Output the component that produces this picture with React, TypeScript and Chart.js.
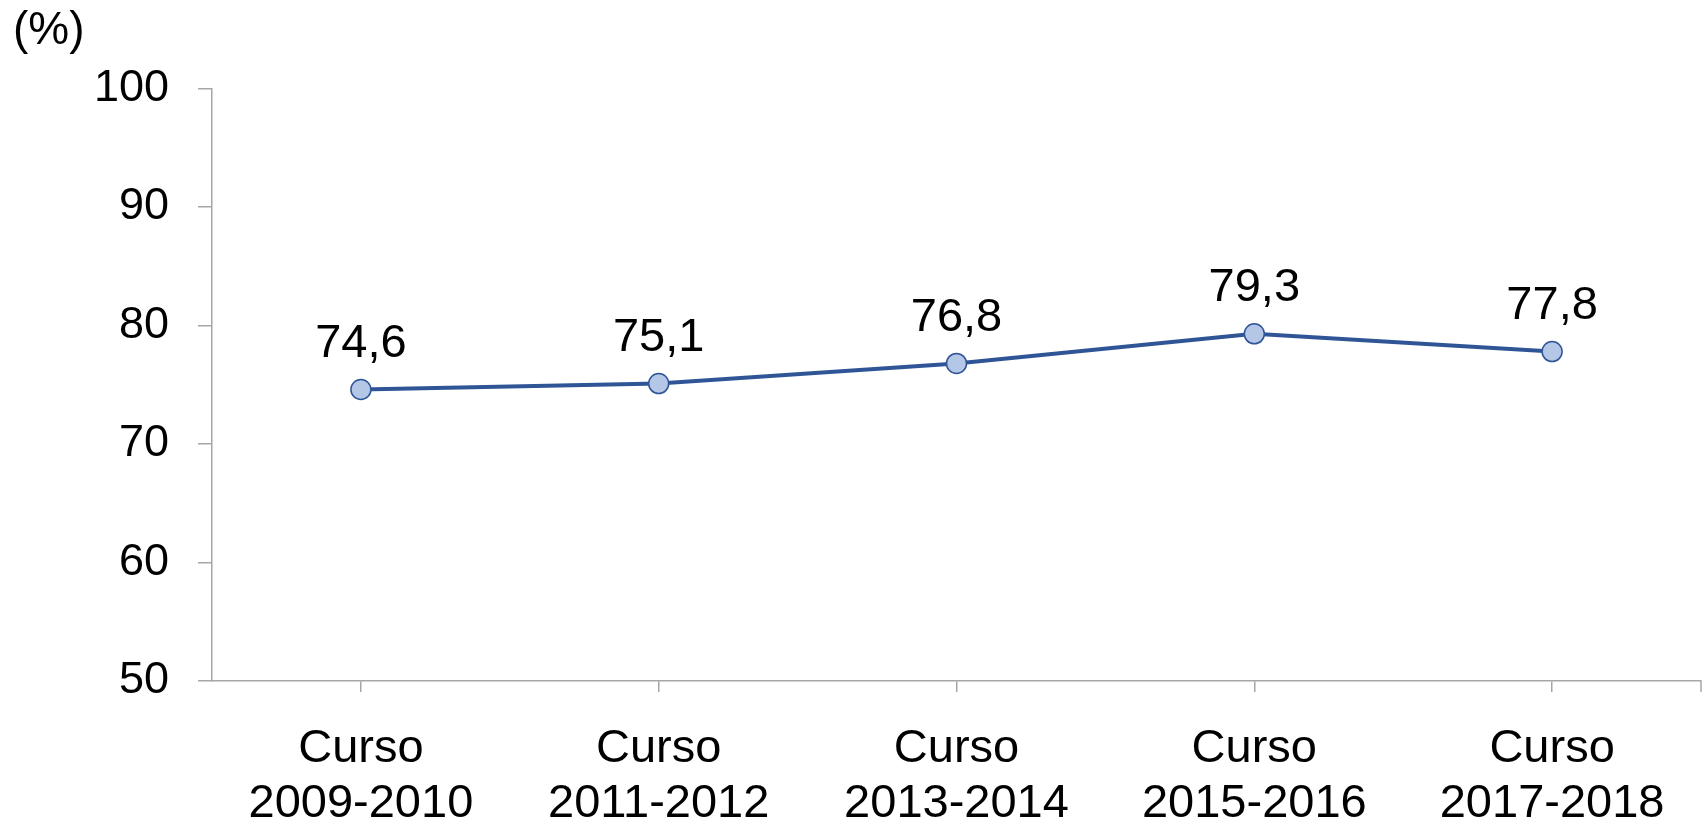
import React, { useEffect, useRef } from "react";
import { Chart, registerables } from "chart.js";

Chart.register(...registerables);

const categories: string[][] = [
  ["Curso", "2009-2010"],
  ["Curso", "2011-2012"],
  ["Curso", "2013-2014"],
  ["Curso", "2015-2016"],
  ["Curso", "2017-2018"],
];
const values: number[] = [74.6, 75.1, 76.8, 79.3, 77.8];
const valueLabels: string[] = ["74,6", "75,1", "76,8", "79,3", "77,8"];
const yMin = 50;
const yMax = 100;
const yStep = 10;
const unitLabel = "(%)";

const FONT = "'Liberation Sans', Arial, sans-serif";
const AXIS = "#A6A6A6";
const LINE = "#2F5597";
const FILL = "#B4C7E7";

const overlayPlugin = {
  id: "overlay",
  afterDatasetsDraw(chart: any) {
    const ctx = chart.ctx;
    const meta = chart.getDatasetMeta(0);
    ctx.save();
    ctx.fillStyle = "#000";
    ctx.font = `47px ${FONT}`;
    ctx.textAlign = "center";
    ctx.textBaseline = "alphabetic";
    meta.data.forEach((pt: any, i: number) => {
      ctx.fillText(valueLabels[i], pt.x, pt.y - 32.5);
    });
    ctx.font = `46px ${FONT}`;
    ctx.textAlign = "left";
    ctx.fillText(unitLabel, 13, 44);
    const a = chart.chartArea;
    ctx.strokeStyle = AXIS;
    ctx.lineWidth = 1.5;
    ctx.beginPath();
    ctx.moveTo(a.right, a.bottom);
    ctx.lineTo(a.right, a.bottom + 11);
    ctx.stroke();
    ctx.restore();
  },
};

export default function App() {
  const ref = useRef<HTMLCanvasElement>(null);
  useEffect(() => {
    document.body.style.margin = "0";
    const chart = new Chart(ref.current!, {
      type: "line",
      data: {
        labels: categories,
        datasets: [
          {
            data: values,
            borderColor: LINE,
            borderWidth: 4,
            pointRadius: 10,
            pointBackgroundColor: FILL,
            pointBorderColor: LINE,
            pointBorderWidth: 1.5,
            tension: 0,
            clip: false,
          },
        ],
      },
      options: {
        animation: false,
        responsive: false,
        maintainAspectRatio: false,
        layout: { autoPadding: false, padding: { top: 88.5, right: 7, left: 0, bottom: 0 } },
        plugins: {
          legend: { display: false },
          tooltip: { enabled: false },
        },
        scales: {
          x: {
            offset: true,
            grid: {
              offset: false,
              drawOnChartArea: false,
              tickLength: 11,
              color: AXIS,
              lineWidth: 1.5,
            },
            border: { color: AXIS, width: 1.5 },
            ticks: {
              color: "#000",
              font: { family: FONT, size: 47, lineHeight: 1.185 },
              padding: 29,
              maxRotation: 0,
              autoSkip: false,
            },
            afterFit: (s: any) => {
              s.height = 828 - 681;
              s.paddingLeft = 0;
              s.paddingRight = 0;
            },
          },
          y: {
            min: yMin,
            max: yMax,
            grid: {
              drawOnChartArea: false,
              tickLength: 14,
              color: AXIS,
              lineWidth: 1.5,
            },
            border: { color: AXIS, width: 1.5 },
            ticks: {
              stepSize: yStep,
              color: "#000",
              font: { family: FONT, size: 45 },
              padding: 29,
            },
            afterFit: (s: any) => {
              s.width = 212;
            },
          },
        },
      },
      plugins: [overlayPlugin],
    });
    return () => chart.destroy();
  }, []);
  return (
    <div style={{ position: "absolute", left: 0, top: 0, width: 1708, height: 828, background: "#fff" }}>
      <canvas ref={ref} width={1708} height={828} style={{ width: 1708, height: 828 }} />
    </div>
  );
}
